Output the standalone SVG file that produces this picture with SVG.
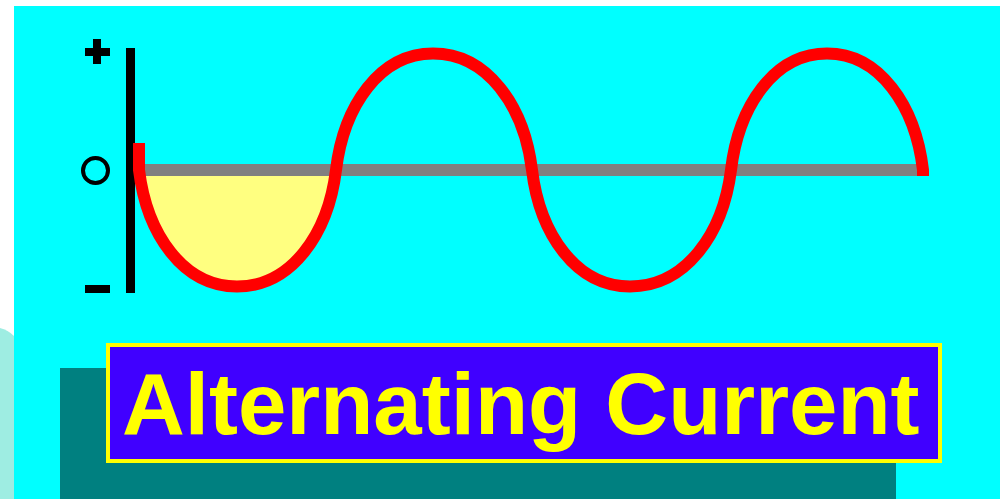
<svg xmlns="http://www.w3.org/2000/svg" width="1000" height="499" viewBox="0 0 1000 499">
<style>
.sym{fill:#000000}
.title{font-family:"Liberation Sans",Arial,sans-serif;font-weight:bold;fill:#FFFF00}
</style>
<rect x="0" y="0" width="1000" height="499" fill="#FFFFFF"/>
<path d="M0,328 Q8,330 14,336 L14,499 L0,499 Z" fill="#9EEDE2"/>
<rect x="14" y="6" width="986" height="493" fill="#00FFFF"/>
<g id="axis-labels">
  <rect class="sym" x="85" y="48" width="25" height="8"/>
  <rect class="sym" x="93" y="39" width="8" height="25"/>
  <ellipse cx="95.5" cy="170.5" rx="12.5" ry="12.5" fill="none" stroke="#000" stroke-width="4"/>
  <rect class="sym" x="85" y="285" width="25" height="8"/>
  <rect class="sym" x="126" y="48" width="9" height="245"/>
</g>
<g id="wave">
  <path d="M139,170 C146.84,234.08 183.1,286.5 237,286.5 C291.45,286.5 328.08,234.08 336,170 Z" fill="#FFFF80"/>
  <rect x="143" y="164" width="778" height="12" fill="#808080"/>
  <path d="M139,143 L139,170 C146.84,234.08 183.1,286.5 237,286.5 C291.45,286.5 328.08,234.08 336,170 C343.76,105.92 379.65,53.5 433,53.5 C487.45,53.5 524.08,105.92 532,170 C539.84,234.08 576.1,286.5 630,286.5 C685.55,286.5 722.92,234.08 731,170 C738.68,105.92 774.2,53.5 827,53.5 C879.8,53.5 915.32,105.92 923,170 L923,176" fill="none" stroke="#FF0000" stroke-width="12"/>
</g>
<g id="title">
  <rect x="60" y="368" width="836" height="131" fill="#008080"/>
  <rect x="108" y="345" width="832" height="116" fill="#4000FF" stroke="#FFFF00" stroke-width="4"/>
  <text class="title" x="122" y="434" font-size="87">Alternating Current</text>
</g>
</svg>
